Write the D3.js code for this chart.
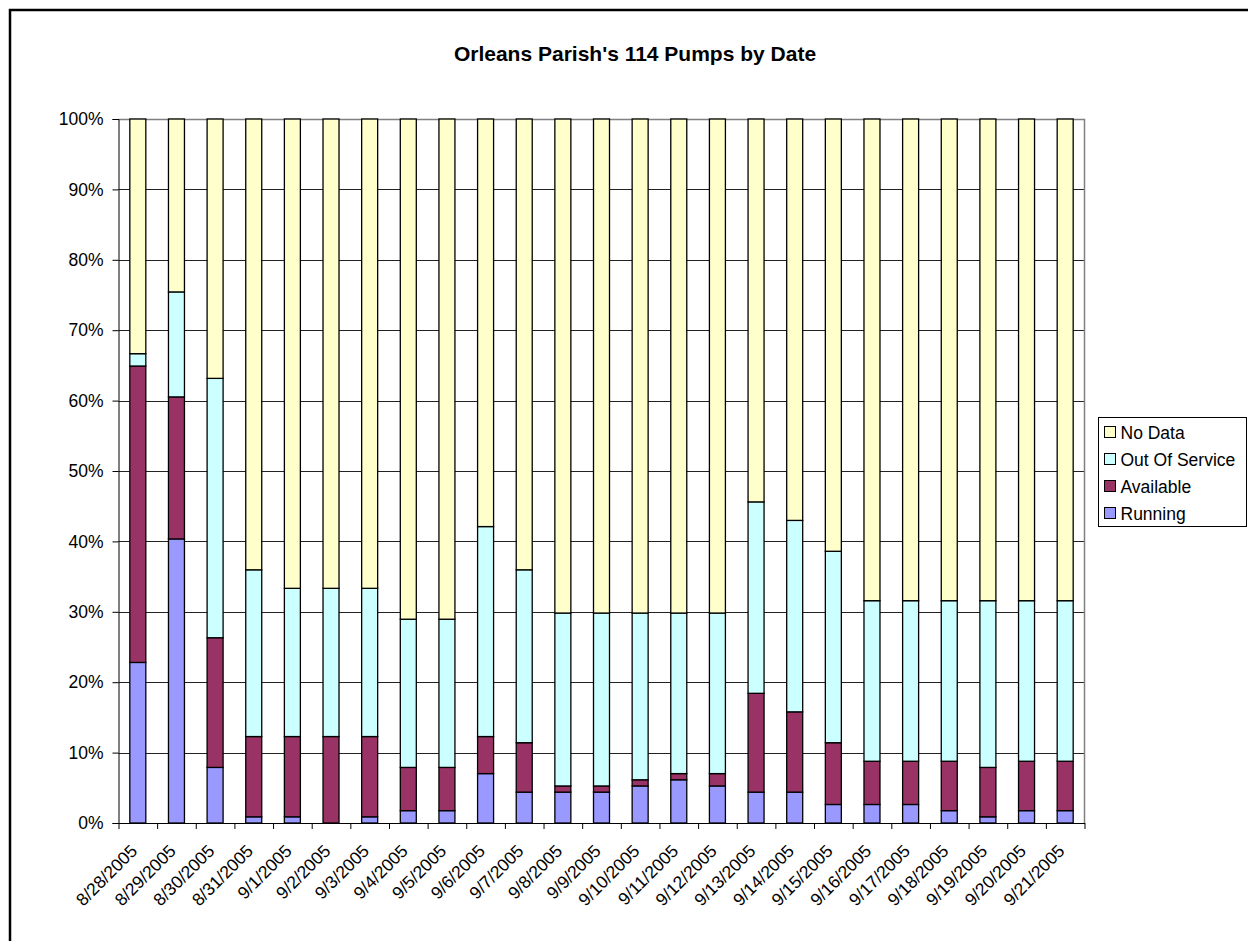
<!DOCTYPE html>
<html>
<head>
    <meta charset="utf-8">
    <title>Orleans Parish's 114 Pumps by Date</title>
    <style>
        body { margin: 0; background: #fff; }
        text { font-family: Arial, "Liberation Sans", sans-serif; }
    </style>
</head>
<body>
<script src="https://cdn.jsdelivr.net/npm/d3@7"></script>
<script>
    // 数据：每天各状态的泵数量（共114台）
    var dates = ["8/28/2005", "8/29/2005", "8/30/2005", "8/31/2005", "9/1/2005", "9/2/2005", "9/3/2005",
        "9/4/2005", "9/5/2005", "9/6/2005", "9/7/2005", "9/8/2005", "9/9/2005", "9/10/2005", "9/11/2005",
        "9/12/2005", "9/13/2005", "9/14/2005", "9/15/2005", "9/16/2005", "9/17/2005", "9/18/2005",
        "9/19/2005", "9/20/2005", "9/21/2005"];
    var running      = [26, 46, 9, 1, 1, 0, 1, 2, 2, 8, 5, 5, 5, 6, 7, 6, 5, 5, 3, 3, 3, 2, 1, 2, 2];
    var available    = [48, 23, 21, 13, 13, 14, 13, 7, 7, 6, 8, 1, 1, 1, 1, 2, 16, 13, 10, 7, 7, 8, 8, 8, 8];
    var outOfService = [2, 17, 42, 27, 24, 24, 24, 24, 24, 34, 28, 28, 28, 27, 26, 26, 31, 31, 31, 26, 26, 26, 27, 26, 26];
    var noData       = [38, 28, 42, 73, 76, 76, 76, 81, 81, 66, 73, 80, 80, 80, 80, 80, 62, 65, 70, 78, 78, 78, 78, 78, 78];
    var seriesNames  = ["Running", "Available", "Out Of Service", "No Data"];
    var yTicks       = [0, 0.1, 0.2, 0.3, 0.4, 0.5, 0.6, 0.7, 0.8, 0.9, 1];

    var width = 1248, height = 941;
    var plot = {left: 118.5, top: 119, width: 966, height: 704};
    var colors = {"Running": "#9999ff", "Available": "#993366", "Out Of Service": "#ccffff", "No Data": "#ffffcc"};

    var svg = d3.select("body").append("svg")
            .attr("width", width)
            .attr("height", height);

    // 外边框
    svg.append("rect")
            .attr("x", 10).attr("y", 10)
            .attr("width", 1260).attr("height", 960)
            .attr("fill", "none")
            .attr("stroke", "#000")
            .attr("stroke-width", 2.5);

    // 标题
    svg.append("text")
            .attr("x", 635).attr("y", 61)
            .attr("text-anchor", "middle")
            .style("font-size", "21px")
            .style("font-weight", "bold")
            .text("Orleans Parish's 114 Pumps by Date");

    // 百分比表格
    var table = dates.map(function (d, i) {
        var total = running[i] + available[i] + outOfService[i] + noData[i];
        return {
            date: d,
            "Running": running[i] / total,
            "Available": available[i] / total,
            "Out Of Service": outOfService[i] / total,
            "No Data": noData[i] / total
        };
    });
    var stacked = d3.stack().keys(seriesNames)(table);

    var xScale = d3.scaleBand()
            .domain(dates)
            .range([0, plot.width])
            .paddingInner(0.586)
            .paddingOuter(0.293);
    var yScale = d3.scaleLinear()
            .domain([0, 1])
            .range([plot.height, 0]);

    var g = svg.append("g")
            .attr("transform", "translate(" + plot.left + "," + plot.top + ")");

    // 网格线
    g.selectAll(".grid")
            .data(yTicks.slice(1, -1))
            .enter()
            .append("line")
            .attr("x1", 0).attr("x2", plot.width)
            .attr("y1", function (d) { return Math.round(yScale(d)) + 0.5; })
            .attr("y2", function (d) { return Math.round(yScale(d)) + 0.5; })
            .attr("stroke", "#222")
            .attr("stroke-width", 1);

    // 绘图区边框（上、右）
    g.append("path")
            .attr("d", "M0,0.5H" + plot.width + "V" + plot.height)
            .attr("fill", "none")
            .attr("stroke", "#808080")
            .attr("stroke-width", 1.5);

    // 堆叠矩形
    g.selectAll(".layer")
            .data(stacked)
            .enter()
            .append("g")
            .attr("fill", function (d) { return colors[d.key]; })
            .selectAll("rect")
            .data(function (d) { return d; })
            .enter()
            .append("rect")
            .attr("x", function (d) { return xScale(d.data.date); })
            .attr("y", function (d) { return yScale(d[1]); })
            .attr("width", xScale.bandwidth())
            .attr("height", function (d) { return yScale(d[0]) - yScale(d[1]); })
            .attr("stroke", "#000")
            .attr("stroke-width", 1.3);

    // y轴
    var yAxis = d3.axisLeft(yScale)
            .tickValues(yTicks)
            .tickFormat(d3.format(".0%"))
            .tickSize(6)
            .tickPadding(9);
    var yg = g.append("g").call(yAxis);
    yg.select(".domain").attr("stroke", "#000");
    yg.selectAll("text").style("font-size", "17.5px").attr("fill", "#000");

    // x轴：刻度在类别之间
    var edgeScale = d3.scaleLinear().domain([0, dates.length]).range([0, plot.width]);
    var xAxis = d3.axisBottom(edgeScale)
            .tickValues(d3.range(dates.length + 1))
            .tickFormat("")
            .tickSize(6)
            .tickSizeOuter(0);
    g.append("g")
            .attr("transform", "translate(0," + plot.height + ")")
            .call(xAxis);

    // x轴标签（45度）
    g.selectAll(".xlabel")
            .data(dates)
            .enter()
            .append("text")
            .attr("class", "xlabel")
            .attr("text-anchor", "end")
            .attr("transform", function (d) {
                var cx = xScale(d) + xScale.bandwidth() / 2 + 0.5;
                return "translate(" + cx + "," + (plot.height + 29) + ") rotate(-45)";
            })
            .style("font-size", "17.5px")
            .text(function (d) { return d; });

    // 图例
    var legend = svg.append("g").attr("transform", "translate(1098,417)");
    legend.append("rect")
            .attr("x", 0.5).attr("y", 0.5)
            .attr("width", 148).attr("height", 109)
            .attr("fill", "#fff")
            .attr("stroke", "#000");
    var items = legend.selectAll(".item")
            .data(seriesNames.slice().reverse())
            .enter()
            .append("g")
            .attr("transform", function (d, i) { return "translate(0," + (15 + i * 27) + ")"; });
    items.append("rect")
            .attr("x", 6.5).attr("y", -5.5)
            .attr("width", 11).attr("height", 11)
            .attr("fill", function (d) { return colors[d]; })
            .attr("stroke", "#000");
    items.append("text")
            .attr("x", 22.5).attr("y", 6.5)
            .style("font-size", "17.5px")
            .text(function (d) { return d; });
</script>
</body>
</html>
